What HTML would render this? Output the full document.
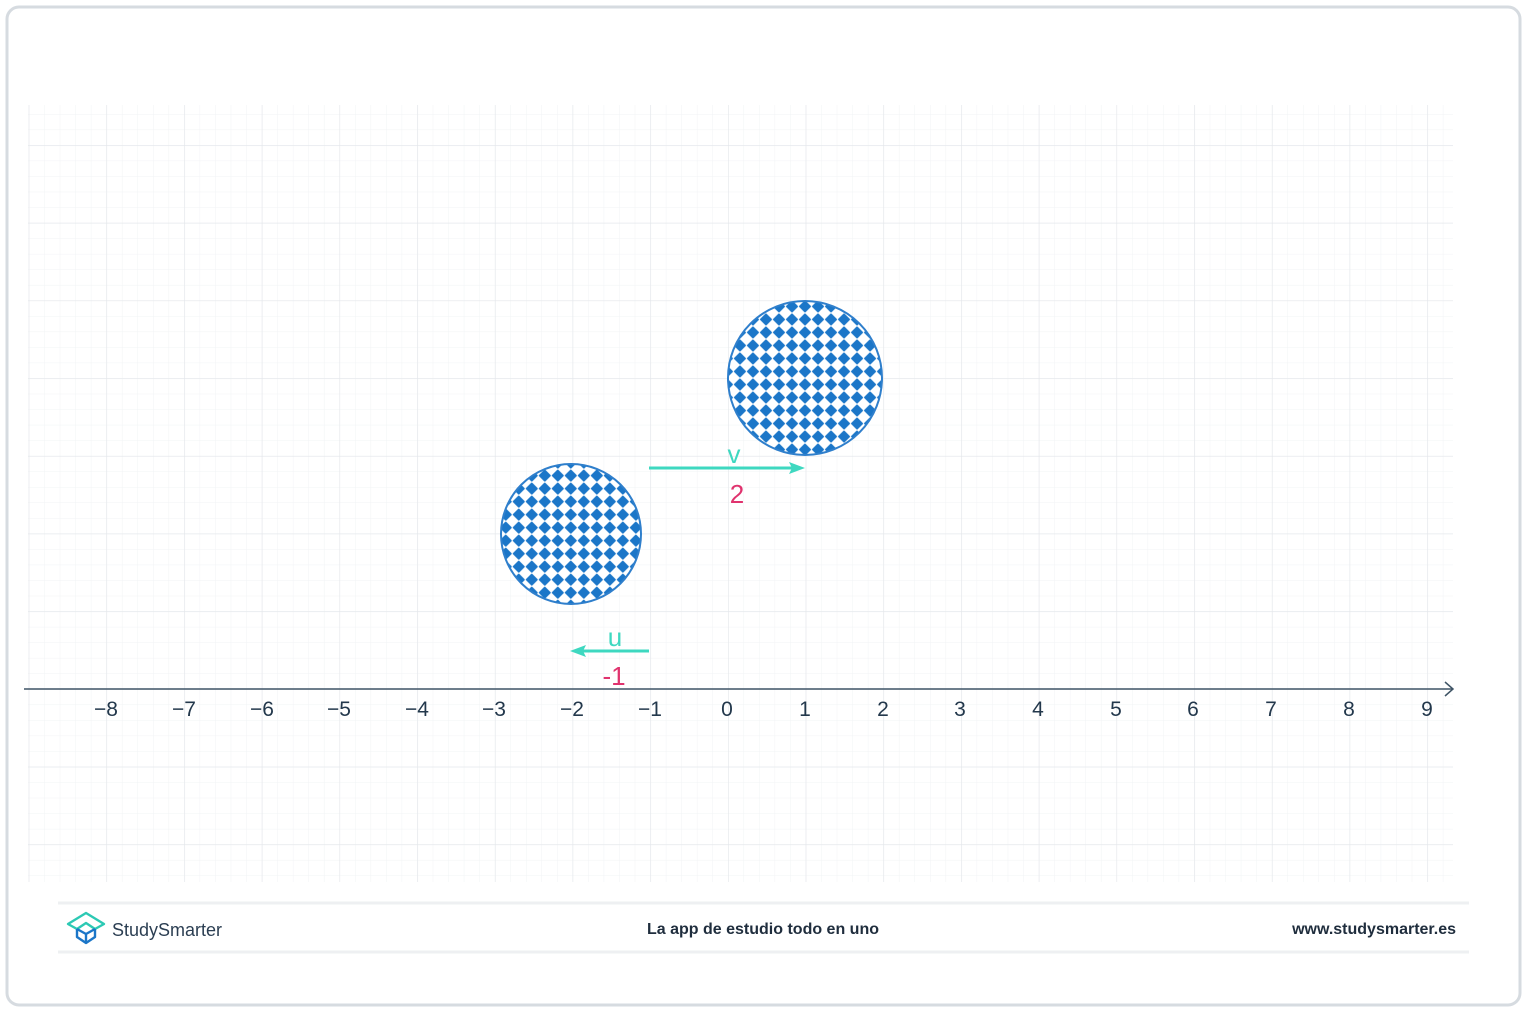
<!DOCTYPE html>
<html><head><meta charset="utf-8"><style>
html,body{margin:0;padding:0;background:#fff;}
svg{display:block;font-family:"Liberation Sans",sans-serif;}
</style></head><body>
<svg width="1527" height="1012" viewBox="0 0 1527 1012" xmlns="http://www.w3.org/2000/svg">
<defs>
<pattern id="minor" patternUnits="userSpaceOnUse" x="106.4" y="689" width="15.54" height="15.54">
<path d="M0 0V15.54M0 0H15.54" stroke="#f1f3f5" stroke-width="1" fill="none"/>
</pattern>
<pattern id="major" patternUnits="userSpaceOnUse" x="106.4" y="689" width="77.7" height="77.7">
<path d="M0 0V77.7M0 0H77.7" stroke="#e3e6ea" stroke-width="1.2" fill="none"/>
</pattern>
<pattern id="chk" patternUnits="userSpaceOnUse" x="0" y="0" width="18.4" height="18.4" patternTransform="translate(805 378) rotate(45)">
<rect x="0.1" y="0.1" width="9" height="9" rx="0.8" fill="#1b76c8"/>
<rect x="9.3" y="9.3" width="9" height="9" rx="0.8" fill="#1b76c8"/>
</pattern>
</defs>
<rect x="7" y="7" width="1513" height="998" rx="12" fill="#fff" stroke="#d6dbe0" stroke-width="3"/>
<rect x="28" y="105" width="1425" height="777" fill="url(#minor)"/>
<rect x="28" y="105" width="1425" height="777" fill="url(#major)"/>
<line x1="24" y1="689" x2="1453" y2="689" stroke="#3f5466" stroke-width="1.5"/>
<path d="M1445 682 L1453 689 L1445 696" stroke="#3f5466" stroke-width="1.5" fill="none"/>
<g font-size="21" fill="#23384c" text-anchor="middle">
<text x="106" y="716">−8</text><text x="184" y="716">−7</text><text x="262" y="716">−6</text>
<text x="339" y="716">−5</text><text x="417" y="716">−4</text><text x="494" y="716">−3</text>
<text x="572" y="716">−2</text><text x="650" y="716">−1</text><text x="727" y="716">0</text>
<text x="805" y="716">1</text><text x="883" y="716">2</text><text x="960" y="716">3</text>
<text x="1038" y="716">4</text><text x="1116" y="716">5</text><text x="1193" y="716">6</text>
<text x="1271" y="716">7</text><text x="1349" y="716">8</text><text x="1427" y="716">9</text>
</g>
<circle cx="805" cy="378" r="77" fill="#fff"/>
<circle cx="805" cy="378" r="77" fill="url(#chk)" stroke="#2f7fcc" stroke-width="2"/>
<circle cx="571" cy="534" r="70" fill="#fff"/>
<circle cx="571" cy="534" r="70" fill="url(#chk)" stroke="#2f7fcc" stroke-width="2"/>
<line x1="649" y1="468" x2="795" y2="468" stroke="#3ed8c0" stroke-width="3"/>
<path d="M805 468 L789 462 L792 468 L789 474 Z" fill="#3ed8c0"/>
<line x1="649" y1="651" x2="580" y2="651" stroke="#3ed8c0" stroke-width="3"/>
<path d="M570 651 L586 645 L583 651 L586 657 Z" fill="#3ed8c0"/>
<g font-size="26" text-anchor="middle">
<text x="734" y="463" fill="#3ed8c0">v</text>
<text x="737" y="503" fill="#e0336e">2</text>
<text x="615" y="646" fill="#3ed8c0">u</text>
<text x="614" y="685" fill="#e0336e">-1</text>
</g>
<line x1="58" y1="903" x2="1469" y2="903" stroke="#eef0f2" stroke-width="3"/>
<line x1="58" y1="952" x2="1469" y2="952" stroke="#eef0f2" stroke-width="3"/>
<g fill="none" stroke-width="2.4" stroke-linejoin="round">
<path d="M68 924 L86 913 L104 924 L95 929 L86 923 L77 929 Z" stroke="#2cc9b4"/>
<path d="M77 929 L77 937 L86 943 L95 937 L95 929 M86 934 L86 943 M77 929 L86 934 L95 929" stroke="#1b76c8"/>
</g>
<text x="112" y="936" font-size="18" fill="#2b3e52">StudySmarter</text>
<text x="763" y="934" font-size="16" font-weight="bold" fill="#1f2d3d" text-anchor="middle">La app de estudio todo en uno</text>
<text x="1456" y="934" font-size="16" font-weight="bold" fill="#1f2d3d" text-anchor="end">www.studysmarter.es</text>
</svg>
</body></html>
